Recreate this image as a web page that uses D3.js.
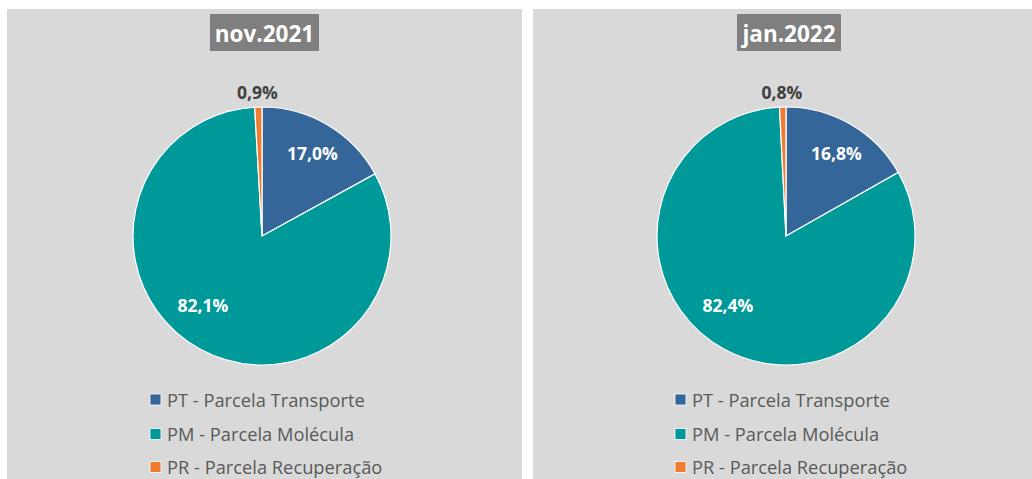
<!DOCTYPE html>
<html><head><meta charset="utf-8">
<script src="https://cdn.jsdelivr.net/npm/d3@7"></script>
<style>body{margin:0;background:#fff;}svg{display:block;}</style>
</head><body>
<svg id="c" width="1032" height="479"></svg>
<script>
const categories = ["PT - Parcela Transporte", "PM - Parcela Molécula", "PR - Parcela Recuperação"];
const periods = ["nov.2021", "jan.2022"];
const valuesNov = [17.0, 82.1, 0.9];
const valuesJan = [16.8, 82.4, 0.8];
const colors = ["#346699", "#009999", "#ED7D31"];

const svg = d3.select("#c");
const panels = [
  {x: 7, w: 515, cx: 262, title: periods[0], vals: valuesNov, tx: 264.5, titleW: 109, legX: 150,
   lab: [[312.5,160],[203,311.5],[257.5,99]]},
  {x: 533, w: 499, cx: 786, title: periods[1], vals: valuesJan, tx: 789, titleW: 104, legX: 675,
   lab: [[836.5,159.5],[728,312],[782,99]]}
];
const r = 129, cy = 236;
const fmt = v => d3.format(".1f")(v).replace(".", ",") + "%";
const font = "'Open Sans', sans-serif";

panels.forEach(p => {
  const g = svg.append("g");
  g.append("rect").attr("x", p.x).attr("y", 9).attr("width", p.w).attr("height", 470).attr("fill", "#d9d9d9");
  g.append("rect").attr("x", p.tx - p.titleW/2).attr("y", 14).attr("width", p.titleW).attr("height", 37).attr("fill", "#7f7f7f");
  g.append("text").attr("x", p.tx).attr("y", 41.5).attr("text-anchor", "middle")
    .attr("font-family", font).attr("font-weight", "bold").attr("font-size", 22.5).attr("fill", "#fff").text(p.title);

  const pie = d3.pie().sort(null).value(d => d)(p.vals);
  const arc = d3.arc().innerRadius(0).outerRadius(r);
  g.selectAll("path.s").data(pie).join("path")
    .attr("transform", `translate(${p.cx},${cy})`)
    .attr("d", arc).attr("fill", (d,i) => colors[i]).attr("stroke", "#fff").attr("stroke-width", 1.2);

  pie.forEach((d,i) => {
    g.append("text").attr("x", p.lab[i][0]).attr("y", p.lab[i][1]).attr("text-anchor", "middle")
      .attr("font-family", font).attr("font-weight", "bold").attr("font-size", 17.5)
      .attr("fill", i === 2 ? "#404040" : "#fff").text(fmt(d.data));
  });

  categories.forEach((c,i) => {
    const yc = [400, 434.5, 467.5][i];
    g.append("rect").attr("x", p.legX).attr("y", yc - 6).attr("width", 11).attr("height", 11)
      .attr("fill", colors[i]).attr("stroke", "#fff").attr("stroke-width", 0.8);
    g.append("text").attr("x", p.legX + 17).attr("y", yc + 6.5).attr("font-family", font)
      .attr("font-size", 18.3).attr("fill", "#595959").text(c);
  });
});
</script>
</body></html>
